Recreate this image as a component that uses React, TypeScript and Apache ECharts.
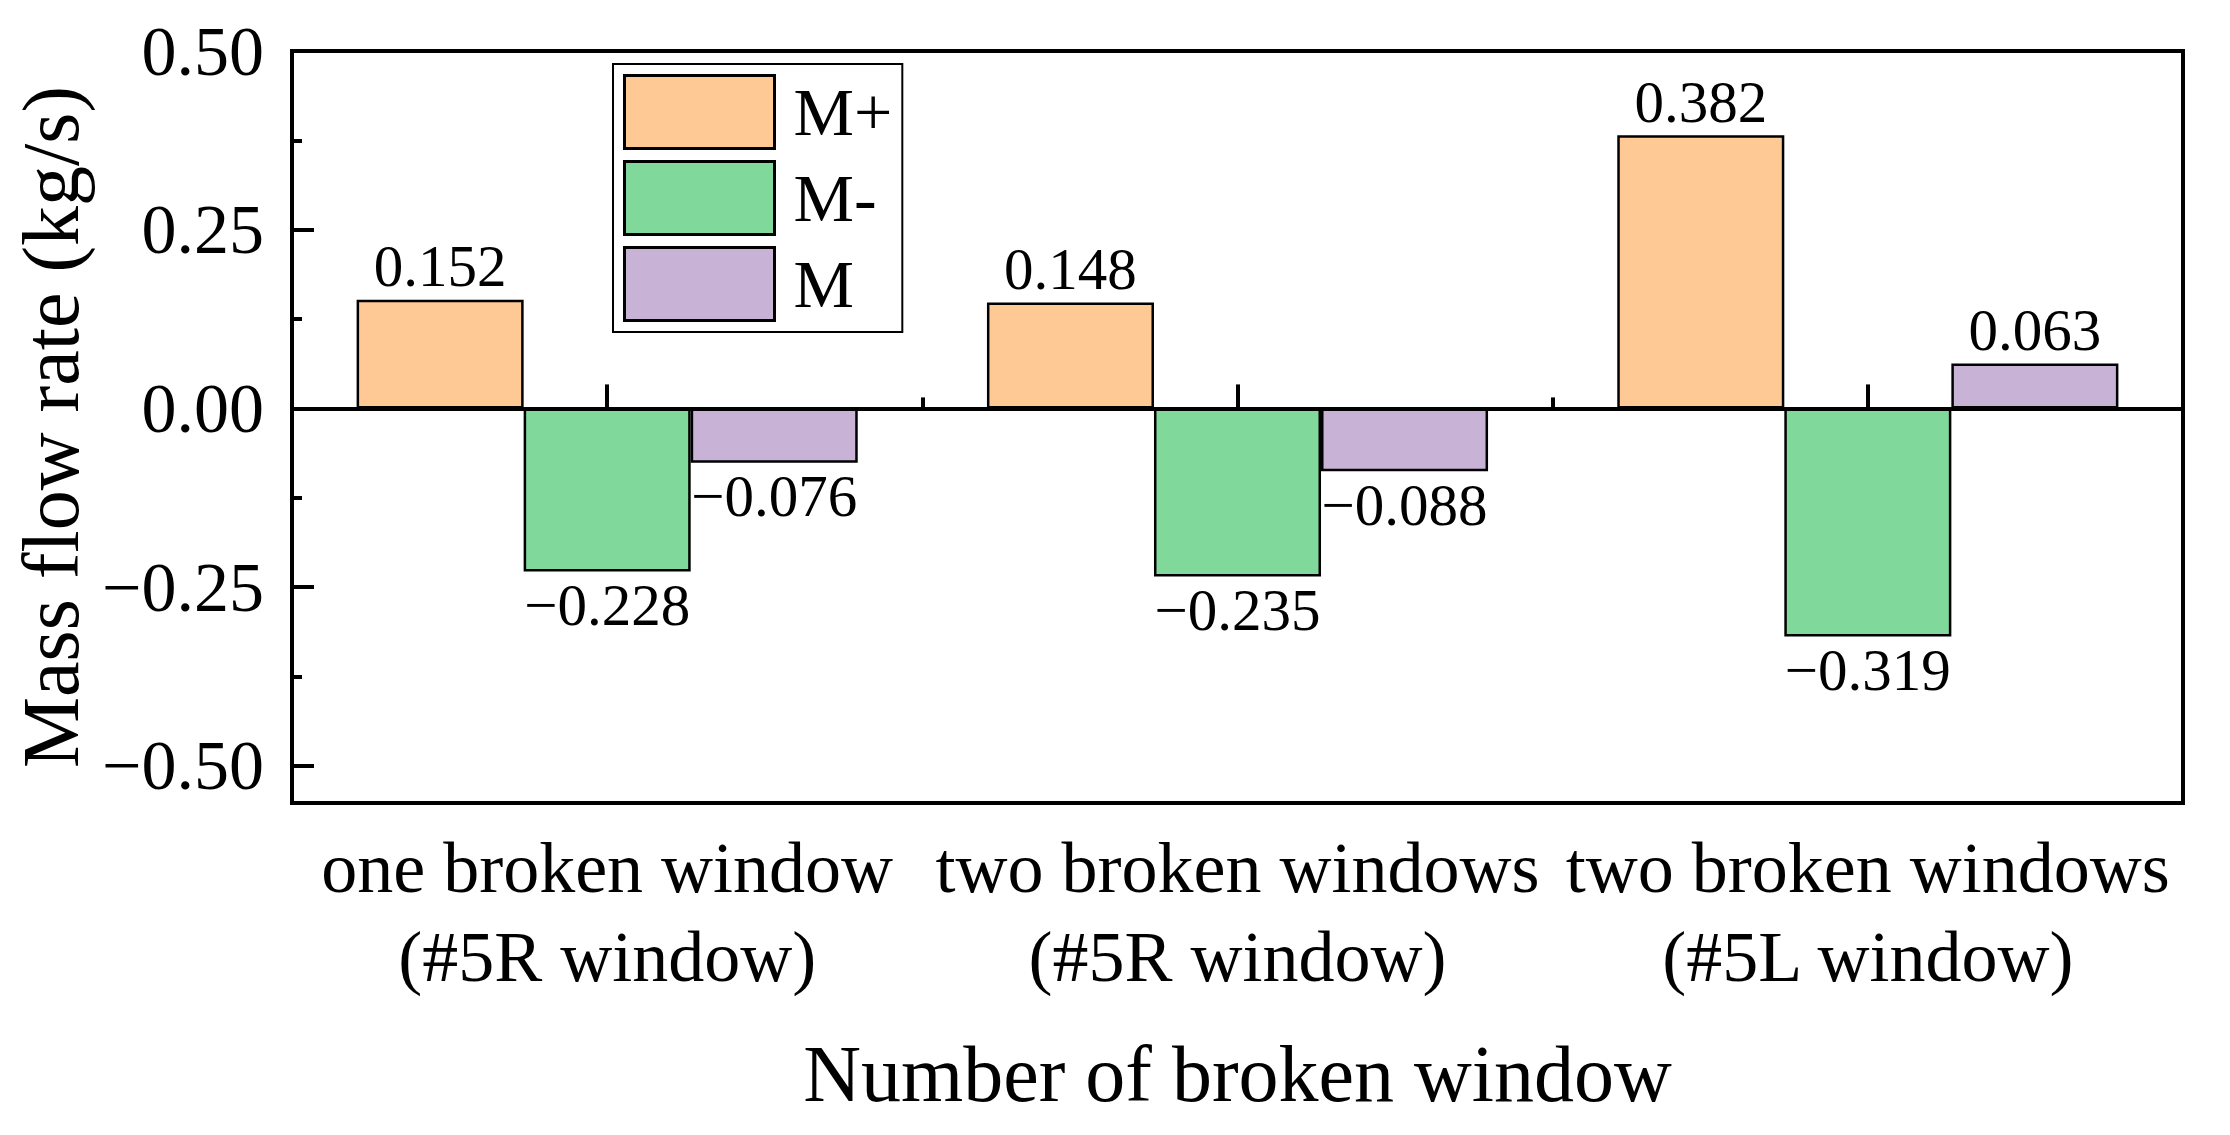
import React, { useEffect, useRef } from "react";
import * as echarts from "echarts";

const categories = ["one broken window\n(#5R window)", "two broken windows\n(#5R window)", "two broken windows\n(#5L window)"];
const seriesNames = ["M+", "M-", "M"];
const mPlus = [0.152, 0.148, 0.382];
const mMinus = [-0.228, -0.235, -0.319];
const mNet = [-0.076, -0.088, 0.063];
const yTicks = [-0.5, -0.25, 0, 0.25, 0.5];
const yMinorTicks = [-0.375, -0.125, 0.125, 0.375];
const colors = ["#FFC995", "#80D89A", "#C8B3D7"];

const FONT = '"Times New Roman", "Liberation Serif", serif';
const minus = "\u2212";
const fmtTick = (v: number) => (v < 0 ? minus + Math.abs(v).toFixed(2) : v.toFixed(2));
const fmtVal = (v: number) => (v < 0 ? minus + Math.abs(v).toFixed(3) : v.toFixed(3));

export default function App() {
  const ref = useRef<HTMLDivElement>(null);
  useEffect(() => {
    document.body.style.margin = "0";
    const chart = echarts.init(ref.current!, null, { renderer: "svg" });
    const all = [mPlus, mMinus, mNet];
    const series: any[] = all.map((vals, i) => ({
      name: seriesNames[i],
      type: "bar",
      xAxisIndex: 0,
      yAxisIndex: 0,
      barGap: "0%",
      barCategoryGap: "20.5%",
      itemStyle: { color: colors[i], borderColor: "#000", borderWidth: 2.5 },
      label: {
        show: true,
        fontFamily: FONT,
        fontSize: 59,
        color: "#000",
        distance: 4,
        formatter: (p: any) => fmtVal(p.value),
      },
      data: vals.map((v) => ({ value: v, label: { position: v < 0 ? "bottom" : "top" } })),
    }));
    series[2].markLine = {
      silent: true,
      symbol: "none",
      label: { show: false },
      lineStyle: { color: "#000", width: 4, type: "solid" },
      data: [{ yAxis: 0 }],
    };
    const option: any = {
      animation: false,
      backgroundColor: "#fff",
      grid: {
        left: 292,
        top: 51,
        width: 1891,
        height: 752,
        show: true,
        borderColor: "#000",
        borderWidth: 4,
        backgroundColor: "transparent",
      },
      legend: {
        show: true,
        orient: "vertical",
        left: 613,
        top: 64,
        padding: [10, 10, 10, 10],
        itemGap: 10,
        itemWidth: 150,
        itemHeight: 73,
        borderColor: "#000",
        borderWidth: 2,
        icon: "rect",
        textStyle: { fontFamily: FONT, fontSize: 68, color: "#000", padding: [0, 0, 0, 14] },
        data: seriesNames.map((n, i) => ({
          name: n,
          itemStyle: { color: colors[i], borderColor: "#000", borderWidth: 3 },
        })),
      },
      xAxis: [
        {
          type: "category",
          data: categories,
          position: "bottom",
          axisLine: { show: true, lineStyle: { color: "#000", width: 4 } },
          axisTick: { show: true, inside: true, alignWithLabel: true, length: 24, lineStyle: { color: "#000", width: 4 } },
          axisLabel: { interval: 0, hideOverlap: false, fontFamily: FONT, fontSize: 72, lineHeight: 89, color: "#000", margin: 20 },
          name: "Number of broken window",
          nameLocation: "middle",
          nameGap: 231,
          nameTextStyle: { fontFamily: FONT, fontSize: 80, color: "#000" },
          splitLine: { show: false },
        },
        {
          type: "category",
          data: categories,
          position: "bottom",
          axisLine: { show: false },
          axisTick: { show: true, inside: true, interval: 0, length: 11, lineStyle: { color: "#000", width: 4 } },
          axisLabel: { show: false },
          splitLine: { show: false },
        },
      ],
      yAxis: [
        {
          type: "value",
          min: -0.552,
          max: 0.5,
          position: "left",
          axisLine: { show: true, lineStyle: { color: "#000", width: 4 } },
          axisTick: { show: true, inside: true, length: 22, customValues: yTicks, lineStyle: { color: "#000", width: 4 } },
          axisLabel: {
            fontFamily: FONT,
            fontSize: 70,
            color: "#000",
            margin: 28,
            customValues: yTicks,
            formatter: (v: number) => fmtTick(v),
          },
          splitLine: { show: false },
          name: "Mass flow rate (kg/s)",
          nameLocation: "middle",
          nameGap: 195,
          nameTextStyle: { fontFamily: FONT, fontSize: 80, color: "#000" },
        },
        {
          type: "value",
          min: -0.552,
          max: 0.5,
          position: "left",
          axisLine: { show: false },
          axisTick: { show: true, inside: true, length: 10, customValues: yMinorTicks, lineStyle: { color: "#000", width: 4 } },
          axisLabel: { show: false },
          splitLine: { show: false },
        },
      ],
      series,
    };
    chart.setOption(option);
    return () => chart.dispose();
  }, []);
  return <div ref={ref} style={{ width: 2230, height: 1135 }} />;
}
